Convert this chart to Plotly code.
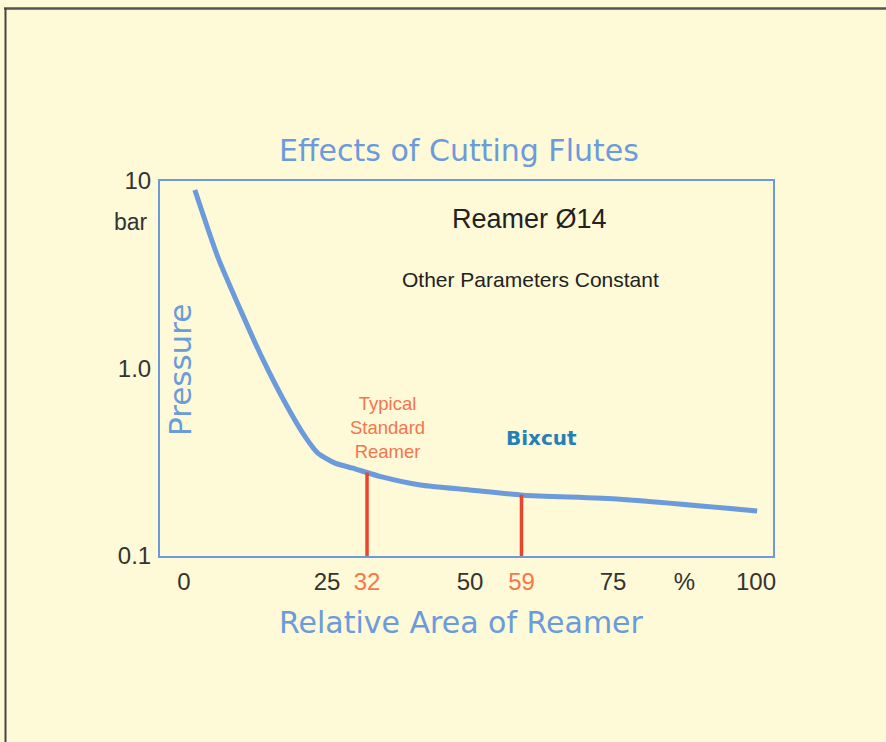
import plotly.graph_objects as go

# Pressure curve: relative reamer area (%) vs pressure (bar)
area_pct = [1.9, 5.9, 10.1, 13.6, 17.7, 21.2, 23.4, 26.4, 29.5, 34.6, 41.3, 50.0, 59.3, 76.2, 100.2]
pressure_bar = [8.95, 3.94, 1.98, 1.15, 0.655, 0.432, 0.354, 0.313, 0.294, 0.264, 0.239,
                0.225, 0.211, 0.201, 0.174]

# Marked reamers
marker_area = [32, 59]
marker_pressure = [0.279, 0.212]

x_tickvals = [0, 25, 32, 50, 59, 75, 87.5, 100]
x_ticktext = ["0", "25", "<span style='color:#f4784c'>32</span>", "50",
              "<span style='color:#f4784c'>59</span>", "75", "%", "100"]
y_tickvals = [0.1, 1, 10]
y_ticktext = ["0.1", "1.0", "10"]

BG = "#fef9d6"
BLUE = "#6b9bdb"
RED = "#e8462c"

fig = go.Figure()

fig.add_trace(go.Scatter(
    x=area_pct, y=pressure_bar, mode="lines",
    line=dict(color=BLUE, width=5, shape="spline", smoothing=0.6),
    hoverinfo="skip", showlegend=False,
))

for xa, ya in zip(marker_area, marker_pressure):
    fig.add_trace(go.Scatter(
        x=[xa, xa], y=[0.1, ya], mode="lines",
        line=dict(color=RED, width=3.5),
        hoverinfo="skip", showlegend=False,
    ))

W, H = 886, 742
L, R, T, B = 160, 773, 181, 556

def px(xp):
    return (xp - L) / (R - L)

def py(yp):
    return (B - yp) / (B - T)

fig.update_layout(
    width=W, height=H,
    margin=dict(l=L, r=W - R, t=T, b=H - B),
    paper_bgcolor=BG, plot_bgcolor=BG,
    font=dict(family="Liberation Sans, Arial, sans-serif", color="#333333"),
    xaxis=dict(
        range=[(L - 184) / 5.72, (R - 184) / 5.72],
        tickvals=x_tickvals, ticktext=x_ticktext,
        showgrid=False, zeroline=False,
        showline=True, linecolor=BLUE, linewidth=2, mirror=True,
        ticks="outside", ticklen=3, tickcolor="rgba(0,0,0,0)",
        tickfont=dict(size=24, color="#333333"),
    ),
    yaxis=dict(
        type="log", range=[-1, 1],
        tickvals=y_tickvals, ticktext=y_ticktext,
        showgrid=False, zeroline=False,
        showline=True, linecolor=BLUE, linewidth=2, mirror=True,
        ticks="outside", ticklen=2, tickcolor="rgba(0,0,0,0)",
        tickfont=dict(size=24, color="#333333"),
    ),
)

title_font = dict(family="DejaVu Sans, Verdana, sans-serif", size=30, color=BLUE)

annotations = [
    dict(text="Effects of Cutting Flutes", x=px(459), y=py(150), font=title_font),
    dict(text="Relative Area of Reamer", x=px(461), y=py(622), font=title_font),
    dict(text="Pressure", x=px(180), y=py(370), textangle=-90,
         font=dict(family="DejaVu Sans, Verdana, sans-serif", size=31, color=BLUE)),
    dict(text="bar", x=px(131), y=py(222),
         font=dict(family="Liberation Sans, Arial, sans-serif", size=23, color="#333333")),
    dict(text="Reamer Ø14", x=px(529), y=py(219),
         font=dict(family="Liberation Sans, Arial, sans-serif", size=27, color="#222222")),
    dict(text="Other Parameters Constant", x=px(530), y=py(279),
         font=dict(family="Liberation Sans, Arial, sans-serif", size=21, color="#222222")),
    dict(text="Typical<br>Standard<br>Reamer", x=px(387), y=py(427),
         font=dict(family="Liberation Sans, Arial, sans-serif", size=18.5, color="#f27650")),
    dict(text="<b>Bixcut</b>", x=px(541), y=py(438),
         font=dict(family="DejaVu Sans, Verdana, sans-serif", size=20, color="#2580b8")),
]
for a in annotations:
    a.update(xref="paper", yref="paper", showarrow=False, xanchor="center", yanchor="middle")
fig.update_layout(annotations=annotations)

# Page frame: dark rule along the top and left edges
fig.add_shape(type="line", xref="paper", yref="paper",
              x0=px(4), x1=px(W), y0=py(8.5), y1=py(8.5),
              line=dict(color="#555555", width=2.5))
fig.add_shape(type="line", xref="paper", yref="paper",
              x0=px(5.5), x1=px(5.5), y0=py(8), y1=py(H),
              line=dict(color="#444444", width=2))

fig.write_html("out.html")
